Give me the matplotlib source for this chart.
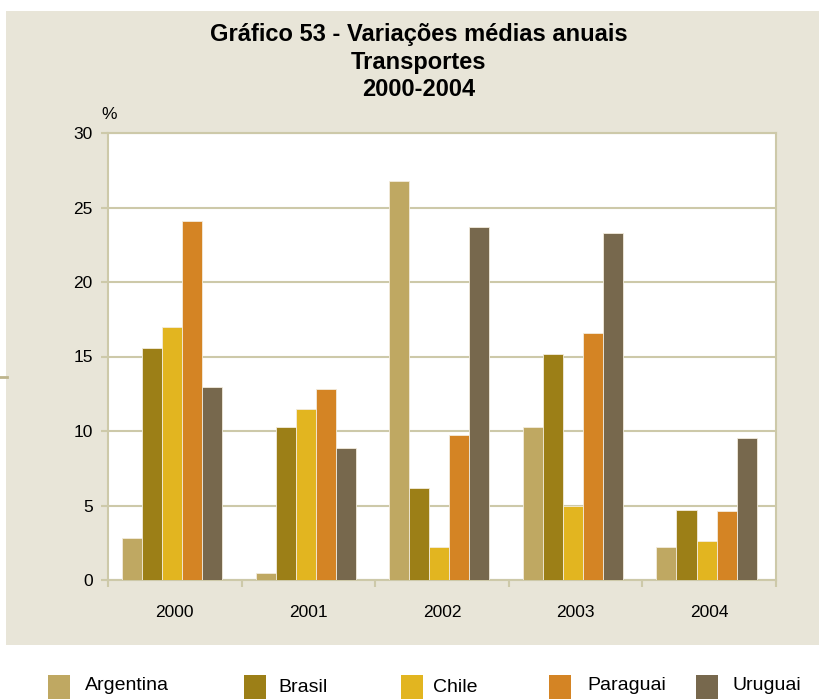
import matplotlib
matplotlib.use("Agg")
import matplotlib.pyplot as plt
from matplotlib.patches import Rectangle
from matplotlib.lines import Line2D
import numpy as np

years = ["2000", "2001", "2002", "2003", "2004"]
countries = ["Argentina", "Brasil", "Chile", "Paraguai", "Uruguai"]
argentina = [2.8, 0.45, 26.8, 10.3, 2.2]
brasil = [15.55, 10.3, 6.15, 15.15, 4.7]
chile = [17.0, 11.5, 2.2, 5.0, 2.6]
paraguai = [24.1, 12.85, 9.7, 16.6, 4.65]
uruguai = [12.95, 8.85, 23.7, 23.3, 9.5]
series = [argentina, brasil, chile, paraguai, uruguai]
colors = ["#BFA862", "#9C7F17", "#E2B520", "#D48424", "#77684D"]
yticks = [0, 5, 10, 15, 20, 25, 30]

BEIGE = "#E8E5D8"
GRID = "#CDC9A9"
plt.rcParams['font.family'] = ['Liberation Sans', 'DejaVu Sans']

fig = plt.figure(figsize=(8.19, 6.99), dpi=100)
fig.patch.set_facecolor("white")
# beige panel
fig.add_artist(Rectangle((6/819, 1-645/699), 1-6/819, (645-11)/699,
                         transform=fig.transFigure, facecolor=BEIGE, edgecolor="none", zorder=0))
fig.add_artist(Line2D([0, 7/819], [1-377/699]*2, transform=fig.transFigure, color="#BDB48C", lw=2))

ax = fig.add_axes([108/819, 1-580/699, 668/819, 447/699])
ax.set_facecolor("white")
x = np.arange(len(years))
w = 0.15
for i, (vals, c) in enumerate(zip(series, colors)):
    ax.bar(x + (i - 2) * w - 0.02, vals, width=w, color=c, edgecolor="#F3ECDD", linewidth=0.6, zorder=3)

ax.set_xlim(-0.5, 4.5)
ax.set_ylim(0, 30)
ax.set_yticks(yticks)
ax.set_yticklabels([str(t) for t in yticks], fontsize=12.5)
ax.yaxis.grid(True, color=GRID, linewidth=1.5, zorder=0)
ax.set_axisbelow(True)
ax.set_xticks(np.arange(-0.5, 5, 1))
ax.set_xticklabels([])
ax.set_xticks(x, minor=True)
ax.set_xticklabels(years, minor=True, fontsize=12.5)
ax.tick_params(axis='x', which='minor', length=0, pad=18)
ax.tick_params(axis='x', which='major', length=5, color=GRID, width=1.5)
ax.tick_params(axis='y', length=5, color=GRID, width=1.5, pad=6)
for s in ax.spines.values():
    s.set_color(GRID)
    s.set_linewidth(1.5)

ax.text(-0.01, 1.025, "%", transform=ax.transAxes, fontsize=12.5, ha="left", va="bottom")

for yy, line in zip([35, 62, 89], ["Gráfico 53 - Variações médias anuais", "Transportes", "2000-2004"]):
    fig.text(419/819, 1-yy/699, line, ha="center", va="center", fontsize=17, fontweight="bold")

# legend
patch_x = [48, 244, 401, 549, 696]
text_x = [85, 278, 433, 587, 733]
text_y = [686, 688, 688, 685, 685]
for name, c, px, tx, ty in zip(countries, colors, patch_x, text_x, text_y):
    fig.add_artist(Rectangle((px/819, 0), 22/819, 24/699, transform=fig.transFigure,
                             facecolor=c, edgecolor="none"))
    fig.text(tx/819, 1-ty/699, name, ha="left", va="center", fontsize=14)

fig.savefig("out.png", dpi=100, facecolor=fig.get_facecolor())
